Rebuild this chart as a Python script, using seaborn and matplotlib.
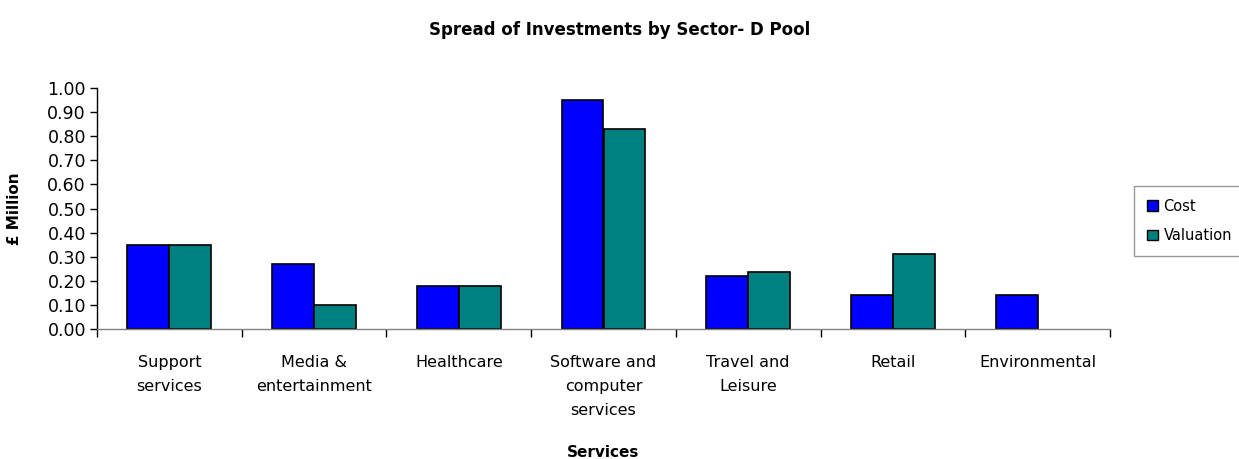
import numpy as np
import pandas as pd
import matplotlib
matplotlib.use("Agg")
import matplotlib.pyplot as plt
import seaborn as sns

# data
sectors = ["Support\nservices", "Media &\nentertainment", "Healthcare",
           "Software and\ncomputer\nservices", "Travel and\nLeisure", "Retail",
           "Environmental"]
cost = [0.35, 0.27, 0.18, 0.95, 0.22, 0.14, 0.14]
valuation = [0.35, 0.10, 0.18, 0.83, 0.235, 0.31, np.nan]
series = ["Cost", "Valuation"]
colors = ["#0000FF", "#008080"]

df = pd.DataFrame({
    "sector": sectors * 2,
    "series": [series[0]] * len(sectors) + [series[1]] * len(sectors),
    "value": cost + valuation,
})

sns.set_style("white")
plt.rcParams["font.family"] = ["DejaVu Sans"]
plt.rcParams["text.color"] = "black"
plt.rcParams["axes.labelcolor"] = "black"
plt.rcParams["xtick.color"] = "black"
plt.rcParams["ytick.color"] = "black"

fig = plt.figure(figsize=(12.39, 4.59), dpi=100)
ax = fig.add_axes([97 / 1239, 1 - 329 / 459, (1110 - 97) / 1239, (329 - 88) / 459])

sns.barplot(data=df, x="sector", y="value", hue="series", order=sectors,
            hue_order=series, palette=colors, width=0.58,
            edgecolor="black", linewidth=1.2, saturation=1, ax=ax, legend=False)

ax.set_xlim(-0.5, len(sectors) - 0.5)
ax.set_ylim(0, 1.0)
ax.set_yticks(np.arange(0, 1.01, 0.1))
ax.set_yticklabels([f"{v:.2f}" for v in np.arange(0, 1.01, 0.1)], fontsize=12.5)
ax.set_xticks(range(len(sectors)))
ax.set_xticklabels(sectors, fontsize=11.5, linespacing=1.75)
ax.set_xticks(np.arange(-0.5, len(sectors), 1.0), minor=True)
ax.tick_params(axis="x", which="major", length=0, pad=19)
ax.tick_params(axis="x", which="minor", length=6, width=1, color="black", direction="out", bottom=True)
ax.tick_params(axis="y", length=5, width=1, color="black", direction="out", left=True, pad=3)

for s in ["top", "right"]:
    ax.spines[s].set_visible(False)
ax.spines["left"].set_color("black")
ax.spines["bottom"].set_color("#808080")
ax.spines["left"].set_linewidth(1)
ax.spines["bottom"].set_linewidth(1)

ax.set_xlabel("Services", fontsize=11, fontweight="bold", labelpad=19)
ax.set_ylabel("£ Million", fontsize=11, fontweight="bold", labelpad=18)
fig.suptitle("Spread of Investments by Sector- D Pool", fontsize=12,
             fontweight="bold", y=1 - 30 / 459, va="center")

handles = [plt.Rectangle((0, 0), 1, 1, facecolor=c, edgecolor="black", linewidth=1)
           for c in colors]
leg = fig.legend(handles, series, loc="center left",
                 bbox_to_anchor=(1127 / 1239, 1 - 221 / 459), fontsize=10.5,
                 frameon=True, fancybox=False, handlelength=0.7, handleheight=0.7,
                 handletextpad=0.4, labelspacing=1.0, borderpad=0.9)
leg.get_frame().set_edgecolor("#808080")
leg.get_frame().set_linewidth(1)

fig.savefig("out.png", dpi=100)
